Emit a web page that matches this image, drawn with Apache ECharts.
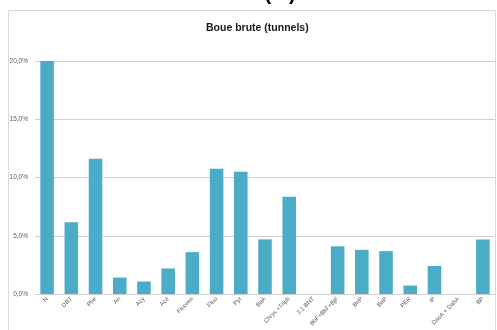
<!DOCTYPE html>
<html>
<head>
<meta charset="utf-8">
<script src="https://cdn.jsdelivr.net/npm/echarts@6/dist/echarts.min.js"></script>
<style>
  html, body { margin: 0; padding: 0; background: #fff; }
  #chart { width: 497px; height: 330px; }
</style>
</head>
<body>
<div id="chart"></div>
<script>
// categories along x
var categories = ['N', 'DBT', 'Phe', 'An', 'Acy', 'Acé', 'Fluoren', 'Fluo', 'Pyr', 'BaA',
  'Chrys +Triph', '2,1 BNT', 'BbF+BkF+BjF', 'BeP', 'BaP', 'PER', 'IP', 'DacA + DahA', 'BP']
// share in %
var values = [20.15, 6.16, 11.61, 1.41, 1.07, 2.19, 3.59, 10.75, 10.49, 4.69,
  8.34, 0, 4.09, 3.79, 3.68, 0.72, 2.41, 0, 4.68]
var yTicks = [0, 5, 10, 15, 20]

var myChart = echarts.init(document.getElementById('chart'))

var option = {
    animation: false,
    title: {
        text: 'Boue brute (tunnels)',
        left: 201,
        top: 18,
        textStyle: {
            fontFamily: 'Liberation Sans',
            fontSize: 10.5,
            fontWeight: 'bold',
            color: '#1a1a1a'
        }
    },
    graphic: [
        {
            // frame of the chart area
            type: 'rect',
            shape: { x: 8.5, y: 10.5, width: 487, height: 330 },
            style: { fill: 'none', stroke: '#d9d9d9', lineWidth: 1 },
            silent: true
        },
        {
            // cut-off heading above the frame
            type: 'text',
            x: 280,
            y: -16,
            style: {
                text: '(%)',
                fontFamily: 'Liberation Sans',
                fontSize: 20,
                fontWeight: 'bold',
                fill: '#000',
                textAlign: 'center'
            }
        }
    ],
    grid: {
        left: 35,
        right: 2,
        top: 61,
        bottom: 36
    },
    xAxis: {
        type: 'category',
        data: categories,
        axisTick: { show: false },
        axisLine: { lineStyle: { color: '#d0d0d0', width: 1 } },
        axisLabel: {
            rotate: 45,
            interval: 0,
            fontSize: 6,
            color: '#595959',
            fontFamily: 'Liberation Sans',
            margin: 4
        }
    },
    yAxis: {
        type: 'value',
        min: yTicks[0],
        max: yTicks[yTicks.length - 1],
        interval: 5,
        axisLine: { show: false },
        axisTick: { show: false },
        splitLine: { lineStyle: { color: '#d0d0d0', width: 1 } },
        axisLabel: {
            fontSize: 6.5,
            color: '#595959',
            fontFamily: 'Liberation Sans',
            margin: 7,
            formatter: function (v) {
                return v.toFixed(1).replace('.', ',') + '%'
            }
        }
    },
    series: [
        {
            type: 'bar',
            data: values,
            barWidth: '56%',
            itemStyle: {
                color: '#4BACC6'
            }
        }
    ]
}

myChart.setOption(option)
</script>
</body>
</html>
